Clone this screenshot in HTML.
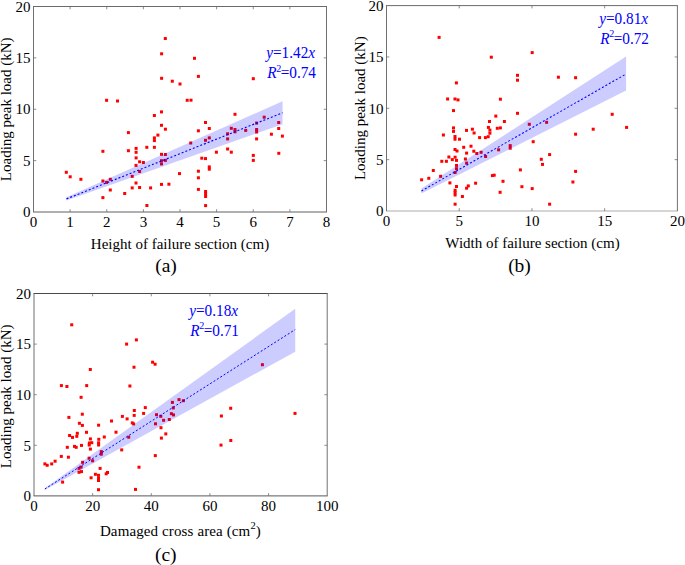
<!DOCTYPE html><html><head><meta charset="utf-8"><style>html,body{margin:0;padding:0;background:#fff;width:685px;height:565px;overflow:hidden}svg{display:block}text{font-family:"Liberation Serif",serif}</style></head><body>
<svg width="685" height="565" viewBox="0 0 685 565">
<rect width="685" height="565" fill="#fff"/>
<g fill="#ff0000"><rect x="64.8" y="170.8" width="3" height="3"/><rect x="68.7" y="175.3" width="3" height="3"/><rect x="79.4" y="177.8" width="3" height="3"/><rect x="101.4" y="149.8" width="3" height="3"/><rect x="101.4" y="179.5" width="3" height="3"/><rect x="105.1" y="180.9" width="3" height="3"/><rect x="108.8" y="177.8" width="3" height="3"/><rect x="108.8" y="188.5" width="3" height="3"/><rect x="101.4" y="196.1" width="3" height="3"/><rect x="123.2" y="192" width="3" height="3"/><rect x="126.9" y="131.1" width="3" height="3"/><rect x="126.9" y="149.2" width="3" height="3"/><rect x="130.7" y="174.9" width="3" height="3"/><rect x="130.7" y="186.4" width="3" height="3"/><rect x="105.1" y="98.8" width="3" height="3"/><rect x="116" y="99.5" width="3" height="3"/><rect x="163.8" y="37" width="3" height="3"/><rect x="160.1" y="52.3" width="3" height="3"/><rect x="193" y="56.8" width="3" height="3"/><rect x="160.1" y="76.8" width="3" height="3"/><rect x="170.8" y="79.7" width="3" height="3"/><rect x="178.5" y="82.5" width="3" height="3"/><rect x="196.9" y="74.9" width="3" height="3"/><rect x="185.7" y="98.8" width="3" height="3"/><rect x="189.5" y="98.7" width="3" height="3"/><rect x="251.8" y="77.2" width="3" height="3"/><rect x="160" y="110.4" width="3" height="3"/><rect x="152.9" y="114" width="3" height="3"/><rect x="160" y="123.8" width="3" height="3"/><rect x="163.9" y="127.7" width="3" height="3"/><rect x="156.4" y="133.6" width="3" height="3"/><rect x="152.9" y="136.4" width="3" height="3"/><rect x="152.9" y="139.1" width="3" height="3"/><rect x="145.3" y="145.8" width="3" height="3"/><rect x="152.9" y="145.8" width="3" height="3"/><rect x="134.6" y="146.9" width="3" height="3"/><rect x="134.6" y="150.8" width="3" height="3"/><rect x="134.6" y="156.4" width="3" height="3"/><rect x="160" y="152.8" width="3" height="3"/><rect x="163.9" y="153" width="3" height="3"/><rect x="204" y="121" width="3" height="3"/><rect x="207.8" y="127" width="3" height="3"/><rect x="196.9" y="129.3" width="3" height="3"/><rect x="189.2" y="141.5" width="3" height="3"/><rect x="204" y="138.8" width="3" height="3"/><rect x="207.8" y="136.4" width="3" height="3"/><rect x="226.1" y="132.3" width="3" height="3"/><rect x="226.1" y="137.4" width="3" height="3"/><rect x="226.1" y="147.5" width="3" height="3"/><rect x="214.9" y="150.7" width="3" height="3"/><rect x="200.3" y="156.7" width="3" height="3"/><rect x="204" y="157.1" width="3" height="3"/><rect x="138.1" y="160.3" width="3" height="3"/><rect x="141.9" y="161" width="3" height="3"/><rect x="134.5" y="163.9" width="3" height="3"/><rect x="138.1" y="170" width="3" height="3"/><rect x="134.5" y="181.5" width="3" height="3"/><rect x="138.1" y="186" width="3" height="3"/><rect x="149.1" y="186.4" width="3" height="3"/><rect x="160" y="182.9" width="3" height="3"/><rect x="167.4" y="182.7" width="3" height="3"/><rect x="145.4" y="204" width="3" height="3"/><rect x="160" y="159.2" width="3" height="3"/><rect x="160" y="162.4" width="3" height="3"/><rect x="163.9" y="158.9" width="3" height="3"/><rect x="178" y="172.1" width="3" height="3"/><rect x="207.8" y="165.4" width="3" height="3"/><rect x="207.8" y="167.7" width="3" height="3"/><rect x="196.9" y="169.7" width="3" height="3"/><rect x="196.9" y="176.3" width="3" height="3"/><rect x="196.9" y="187.9" width="3" height="3"/><rect x="204.1" y="190" width="3" height="3"/><rect x="204.1" y="192.5" width="3" height="3"/><rect x="204.1" y="195" width="3" height="3"/><rect x="204.1" y="204.1" width="3" height="3"/><rect x="233.5" y="112.8" width="3" height="3"/><rect x="229.8" y="126.8" width="3" height="3"/><rect x="233.5" y="128" width="3" height="3"/><rect x="233.5" y="130.3" width="3" height="3"/><rect x="229.8" y="150.7" width="3" height="3"/><rect x="244.2" y="128.9" width="3" height="3"/><rect x="255.1" y="121.6" width="3" height="3"/><rect x="255.1" y="128" width="3" height="3"/><rect x="255.1" y="130.5" width="3" height="3"/><rect x="255.1" y="137.4" width="3" height="3"/><rect x="262.7" y="115.7" width="3" height="3"/><rect x="269.9" y="132.7" width="3" height="3"/><rect x="251.8" y="153.9" width="3" height="3"/><rect x="251.8" y="158.9" width="3" height="3"/><rect x="277.2" y="121" width="3" height="3"/><rect x="277.2" y="127" width="3" height="3"/><rect x="280.9" y="134.6" width="3" height="3"/><rect x="277.3" y="151.8" width="3" height="3"/></g>
<polygon points="66.46,197.34 282.55,101.26 282.55,124.24 66.46,200.39" fill="#0000ff" fill-opacity="0.2"/>
<line x1="66.46" y1="198.87" x2="282.55" y2="112.78" stroke="#0000ff" stroke-width="1.15" stroke-dasharray="2 2"/>
<g fill="none" stroke-width="1">
<line x1="33" y1="6.5" x2="327" y2="6.5" stroke="#6a6a6a"/>
<line x1="33" y1="212" x2="327" y2="212" stroke="#606060"/>
<line x1="33.5" y1="6.5" x2="33.5" y2="212" stroke="#707070"/>
<line x1="326.5" y1="6.5" x2="326.5" y2="212" stroke="#707070"/>
<path d="M70.12 212v-2.8M70.12 6.5v2.8M106.75 212v-2.8M106.75 6.5v2.8M143.38 212v-2.8M143.38 6.5v2.8M180 212v-2.8M180 6.5v2.8M216.62 212v-2.8M216.62 6.5v2.8M253.25 212v-2.8M253.25 6.5v2.8M289.88 212v-2.8M289.88 6.5v2.8M33.5 160.62h2.8M326.5 160.62h-2.8M33.5 109.25h2.8M326.5 109.25h-2.8M33.5 57.88h2.8M326.5 57.88h-2.8" stroke="#707070" stroke-width="0.8"/>
</g>
<g font-size="15" fill="#000"><text x="33.5" y="226.6" text-anchor="middle">0</text><text x="70.12" y="226.6" text-anchor="middle">1</text><text x="106.75" y="226.6" text-anchor="middle">2</text><text x="143.38" y="226.6" text-anchor="middle">3</text><text x="180" y="226.6" text-anchor="middle">4</text><text x="216.62" y="226.6" text-anchor="middle">5</text><text x="253.25" y="226.6" text-anchor="middle">6</text><text x="289.88" y="226.6" text-anchor="middle">7</text><text x="326.5" y="226.6" text-anchor="middle">8</text><text x="30.5" y="217.2" text-anchor="end">0</text><text x="30.5" y="165.82" text-anchor="end">5</text><text x="30.5" y="114.45" text-anchor="end">10</text><text x="30.5" y="63.08" text-anchor="end">15</text><text x="30.5" y="11.7" text-anchor="end">20</text></g>
<text x="180" y="248.8" font-size="15" text-anchor="middle" letter-spacing="0">Height of failure section (cm)</text>
<text x="166" y="271.8" font-size="19.5" text-anchor="middle">(a)</text>
<text transform="translate(10.9 109.3) rotate(-90)" font-size="15" text-anchor="middle">Loading peak load (kN)</text>
<g fill="#0000ff" font-size="15.9">
<text transform="translate(266.2 58.4) scale(0.96 1)"><tspan font-style="italic">y</tspan>=1.42<tspan font-style="italic">x</tspan></text>
<text transform="translate(267.2 78.1) scale(0.96 1)"><tspan font-style="italic">R</tspan><tspan font-size="10.5" dy="-6.5" dx="-0.3">2</tspan><tspan dy="6.5" dx="-0.6">=0.74</tspan></text>
</g>
<g fill="#ff0000"><rect x="437.6" y="35.9" width="3" height="3"/><rect x="454.9" y="81.4" width="3" height="3"/><rect x="446.1" y="97.5" width="3" height="3"/><rect x="453.5" y="97.5" width="3" height="3"/><rect x="456.5" y="98.4" width="3" height="3"/><rect x="489.8" y="55.7" width="3" height="3"/><rect x="530.7" y="51.1" width="3" height="3"/><rect x="516" y="73.8" width="3" height="3"/><rect x="516" y="78.7" width="3" height="3"/><rect x="556.9" y="75.7" width="3" height="3"/><rect x="574.1" y="76.2" width="3" height="3"/><rect x="498.9" y="97.7" width="3" height="3"/><rect x="452" y="109.1" width="3" height="3"/><rect x="452" y="126.4" width="3" height="3"/><rect x="452" y="129.9" width="3" height="3"/><rect x="441.9" y="133.5" width="3" height="3"/><rect x="453.5" y="135" width="3" height="3"/><rect x="453.5" y="137.7" width="3" height="3"/><rect x="458" y="137.7" width="3" height="3"/><rect x="465" y="128.9" width="3" height="3"/><rect x="470.9" y="127.7" width="3" height="3"/><rect x="472.6" y="131.5" width="3" height="3"/><rect x="478.1" y="136.1" width="3" height="3"/><rect x="483.9" y="136.1" width="3" height="3"/><rect x="486.7" y="135.2" width="3" height="3"/><rect x="488" y="120" width="3" height="3"/><rect x="486.9" y="125.9" width="3" height="3"/><rect x="488.4" y="128.6" width="3" height="3"/><rect x="488.4" y="131.7" width="3" height="3"/><rect x="462.2" y="145.8" width="3" height="3"/><rect x="469.5" y="144.7" width="3" height="3"/><rect x="453.5" y="148" width="3" height="3"/><rect x="455.5" y="149.5" width="3" height="3"/><rect x="494.3" y="114.6" width="3" height="3"/><rect x="516" y="111.8" width="3" height="3"/><rect x="502.9" y="120" width="3" height="3"/><rect x="495.8" y="126.8" width="3" height="3"/><rect x="498.9" y="126.4" width="3" height="3"/><rect x="527.8" y="122.8" width="3" height="3"/><rect x="508.7" y="144.1" width="3" height="3"/><rect x="531.7" y="140.2" width="3" height="3"/><rect x="497.1" y="148.3" width="3" height="3"/><rect x="545.1" y="120.8" width="3" height="3"/><rect x="574.1" y="132.7" width="3" height="3"/><rect x="610.7" y="112.8" width="3" height="3"/><rect x="625.1" y="125.9" width="3" height="3"/><rect x="591.7" y="127.7" width="3" height="3"/><rect x="574.1" y="169.9" width="3" height="3"/><rect x="571.4" y="180.5" width="3" height="3"/><rect x="447.4" y="155.5" width="3" height="3"/><rect x="440.3" y="159.8" width="3" height="3"/><rect x="444.9" y="159.8" width="3" height="3"/><rect x="431.8" y="169" width="3" height="3"/><rect x="427.3" y="176.8" width="3" height="3"/><rect x="420.1" y="178.3" width="3" height="3"/><rect x="439.1" y="174.8" width="3" height="3"/><rect x="448.4" y="181.4" width="3" height="3"/><rect x="465.1" y="151.6" width="3" height="3"/><rect x="472.3" y="149.7" width="3" height="3"/><rect x="475.3" y="152" width="3" height="3"/><rect x="479.6" y="150.8" width="3" height="3"/><rect x="484.1" y="155" width="3" height="3"/><rect x="453.6" y="155.7" width="3" height="3"/><rect x="450.8" y="158.1" width="3" height="3"/><rect x="455" y="158.9" width="3" height="3"/><rect x="463.9" y="157.5" width="3" height="3"/><rect x="465.1" y="161.6" width="3" height="3"/><rect x="455" y="163.9" width="3" height="3"/><rect x="455" y="167.2" width="3" height="3"/><rect x="453.6" y="171" width="3" height="3"/><rect x="490.9" y="174.1" width="3" height="3"/><rect x="492.7" y="173.7" width="3" height="3"/><rect x="455" y="185" width="3" height="3"/><rect x="466.8" y="184.4" width="3" height="3"/><rect x="465.1" y="186.7" width="3" height="3"/><rect x="474.1" y="181.7" width="3" height="3"/><rect x="453.6" y="188.8" width="3" height="3"/><rect x="453.6" y="191.1" width="3" height="3"/><rect x="453.6" y="193.5" width="3" height="3"/><rect x="460.9" y="195" width="3" height="3"/><rect x="453.6" y="202.7" width="3" height="3"/><rect x="548.1" y="153.1" width="3" height="3"/><rect x="539.8" y="157.8" width="3" height="3"/><rect x="541" y="162.9" width="3" height="3"/><rect x="518.9" y="168.4" width="3" height="3"/><rect x="501.5" y="179.8" width="3" height="3"/><rect x="520.4" y="185.2" width="3" height="3"/><rect x="530.7" y="187.1" width="3" height="3"/><rect x="498.6" y="190.8" width="3" height="3"/><rect x="548.1" y="202.7" width="3" height="3"/><rect x="508.7" y="146.7" width="3" height="3"/></g>
<polygon points="421.41,188.5 626.06,56.57 626.06,90.57 421.41,193.45" fill="#0000ff" fill-opacity="0.2"/>
<line x1="421.41" y1="191.04" x2="626.06" y2="73.99" stroke="#0000ff" stroke-width="1.05" stroke-dasharray="2 2"/>
<g fill="none" stroke-width="1">
<line x1="386" y1="5.6" x2="677.9" y2="5.6" stroke="#6a6a6a"/>
<line x1="386" y1="211" x2="677.9" y2="211" stroke="#ababab"/>
<line x1="386.5" y1="5.6" x2="386.5" y2="211" stroke="#707070"/>
<line x1="677.4" y1="5.6" x2="677.4" y2="211" stroke="#707070"/>
<path d="M459.23 211v-2.8M459.23 5.6v2.8M531.95 211v-2.8M531.95 5.6v2.8M604.67 211v-2.8M604.67 5.6v2.8M386.5 159.65h2.8M677.4 159.65h-2.8M386.5 108.3h2.8M677.4 108.3h-2.8M386.5 56.95h2.8M677.4 56.95h-2.8" stroke="#707070" stroke-width="0.8"/>
</g>
<g font-size="15" fill="#000"><text x="386.5" y="225.6" text-anchor="middle">0</text><text x="459.23" y="225.6" text-anchor="middle">5</text><text x="531.95" y="225.6" text-anchor="middle">10</text><text x="604.67" y="225.6" text-anchor="middle">15</text><text x="677.4" y="225.6" text-anchor="middle">20</text><text x="383.5" y="216.2" text-anchor="end">0</text><text x="383.5" y="164.85" text-anchor="end">5</text><text x="383.5" y="113.5" text-anchor="end">10</text><text x="383.5" y="62.15" text-anchor="end">15</text><text x="383.5" y="10.8" text-anchor="end">20</text></g>
<text x="532.5" y="247.6" font-size="15" text-anchor="middle" letter-spacing="0">Width of failure section (cm)</text>
<text x="519.5" y="271.8" font-size="19.5" text-anchor="middle">(b)</text>
<text transform="translate(364.7 108.2) rotate(-90)" font-size="15" text-anchor="middle">Loading peak load (kN)</text>
<g fill="#0000ff" font-size="15.9">
<text transform="translate(599.2 24.2) scale(0.96 1)"><tspan font-style="italic">y</tspan>=0.81<tspan font-style="italic">x</tspan></text>
<text transform="translate(600.2 43.9) scale(0.96 1)"><tspan font-style="italic">R</tspan><tspan font-size="10.5" dy="-6.5" dx="-0.3">2</tspan><tspan dy="6.5" dx="-0.6">=0.72</tspan></text>
</g>
<g fill="#ff0000"><rect x="70.2" y="323.3" width="3" height="3"/><rect x="134.9" y="338.4" width="3" height="3"/><rect x="125.1" y="342.6" width="3" height="3"/><rect x="88.8" y="368" width="3" height="3"/><rect x="132.5" y="365.7" width="3" height="3"/><rect x="151.1" y="360.7" width="3" height="3"/><rect x="153.6" y="362.7" width="3" height="3"/><rect x="59.9" y="384.1" width="3" height="3"/><rect x="65.4" y="385" width="3" height="3"/><rect x="85.2" y="384.1" width="3" height="3"/><rect x="128.4" y="384.5" width="3" height="3"/><rect x="79.6" y="395.8" width="3" height="3"/><rect x="80.8" y="412.7" width="3" height="3"/><rect x="67.4" y="415.9" width="3" height="3"/><rect x="77.9" y="421.8" width="3" height="3"/><rect x="80.9" y="423.9" width="3" height="3"/><rect x="97.1" y="423.7" width="3" height="3"/><rect x="110" y="419.5" width="3" height="3"/><rect x="120.9" y="414.9" width="3" height="3"/><rect x="125.6" y="417.4" width="3" height="3"/><rect x="132.8" y="409" width="3" height="3"/><rect x="132.7" y="413.9" width="3" height="3"/><rect x="130.8" y="421.4" width="3" height="3"/><rect x="132.1" y="422.4" width="3" height="3"/><rect x="143.8" y="406.1" width="3" height="3"/><rect x="142.1" y="411.9" width="3" height="3"/><rect x="85" y="430.8" width="3" height="3"/><rect x="68.1" y="434" width="3" height="3"/><rect x="71" y="435.9" width="3" height="3"/><rect x="75.8" y="431.8" width="3" height="3"/><rect x="75.3" y="434.8" width="3" height="3"/><rect x="88.9" y="437.4" width="3" height="3"/><rect x="97.3" y="437.8" width="3" height="3"/><rect x="87.9" y="441.5" width="3" height="3"/><rect x="90.3" y="441.2" width="3" height="3"/><rect x="87.7" y="443.5" width="3" height="3"/><rect x="97.1" y="441.3" width="3" height="3"/><rect x="97.1" y="443.5" width="3" height="3"/><rect x="80" y="443.9" width="3" height="3"/><rect x="73" y="444.9" width="3" height="3"/><rect x="74.7" y="445.8" width="3" height="3"/><rect x="65.8" y="445.8" width="3" height="3"/><rect x="88.9" y="447.6" width="3" height="3"/><rect x="59.8" y="454.9" width="3" height="3"/><rect x="66.9" y="455.7" width="3" height="3"/><rect x="43.4" y="462.4" width="3" height="3"/><rect x="45.7" y="463.8" width="3" height="3"/><rect x="50.2" y="462.4" width="3" height="3"/><rect x="53.6" y="459.7" width="3" height="3"/><rect x="81.1" y="460.8" width="3" height="3"/><rect x="87.6" y="456.7" width="3" height="3"/><rect x="91.1" y="459.3" width="3" height="3"/><rect x="77.5" y="466.9" width="3" height="3"/><rect x="79.6" y="465.6" width="3" height="3"/><rect x="77.5" y="470.8" width="3" height="3"/><rect x="80" y="470.1" width="3" height="3"/><rect x="89.6" y="476.3" width="3" height="3"/><rect x="61.1" y="480.6" width="3" height="3"/><rect x="114.5" y="430.7" width="3" height="3"/><rect x="102.8" y="435.5" width="3" height="3"/><rect x="127.2" y="435.7" width="3" height="3"/><rect x="120.2" y="448.4" width="3" height="3"/><rect x="99.8" y="450.1" width="3" height="3"/><rect x="99.8" y="452.7" width="3" height="3"/><rect x="170.9" y="400.9" width="3" height="3"/><rect x="177.5" y="398.1" width="3" height="3"/><rect x="181.9" y="399.2" width="3" height="3"/><rect x="171.8" y="406.4" width="3" height="3"/><rect x="155" y="413.2" width="3" height="3"/><rect x="159.3" y="414.8" width="3" height="3"/><rect x="162.1" y="418.8" width="3" height="3"/><rect x="154" y="422.3" width="3" height="3"/><rect x="167.8" y="418" width="3" height="3"/><rect x="169.9" y="412.2" width="3" height="3"/><rect x="172" y="413.4" width="3" height="3"/><rect x="159.5" y="426.2" width="3" height="3"/><rect x="164.3" y="432.4" width="3" height="3"/><rect x="159.9" y="436.6" width="3" height="3"/><rect x="229.2" y="406.8" width="3" height="3"/><rect x="219.9" y="414.5" width="3" height="3"/><rect x="293.5" y="411.9" width="3" height="3"/><rect x="229.3" y="439" width="3" height="3"/><rect x="219.5" y="443.6" width="3" height="3"/><rect x="260.9" y="363.2" width="3" height="3"/><rect x="153.8" y="454.1" width="3" height="3"/><rect x="98.6" y="466.9" width="3" height="3"/><rect x="137.5" y="465.7" width="3" height="3"/><rect x="106" y="471" width="3" height="3"/><rect x="104.7" y="472.3" width="3" height="3"/><rect x="93.9" y="472.8" width="3" height="3"/><rect x="97" y="473.8" width="3" height="3"/><rect x="97" y="476.5" width="3" height="3"/><rect x="97" y="479" width="3" height="3"/><rect x="97" y="488.2" width="3" height="3"/><rect x="134" y="487.9" width="3" height="3"/></g>
<polygon points="44.85,488.13 295.24,308.8 295.24,351.63 44.85,489.91" fill="#0000ff" fill-opacity="0.2"/>
<line x1="44.85" y1="488.99" x2="295.24" y2="329.54" stroke="#0000ff" stroke-width="1.0" stroke-dasharray="2 2"/>
<g fill="none" stroke-width="1">
<line x1="33.5" y1="293.5" x2="327.7" y2="293.5" stroke="#4a4a4a"/>
<line x1="33.5" y1="495.9" x2="327.7" y2="495.9" stroke="#585858"/>
<line x1="34" y1="293.5" x2="34" y2="495.9" stroke="#707070"/>
<line x1="327.2" y1="293.5" x2="327.2" y2="495.9" stroke="#707070"/>
<path d="M92.64 495.9v-2.8M92.64 293.5v2.8M151.28 495.9v-2.8M151.28 293.5v2.8M209.92 495.9v-2.8M209.92 293.5v2.8M268.56 495.9v-2.8M268.56 293.5v2.8M34 445.3h2.8M327.2 445.3h-2.8M34 394.7h2.8M327.2 394.7h-2.8M34 344.1h2.8M327.2 344.1h-2.8" stroke="#707070" stroke-width="0.8"/>
</g>
<g font-size="15" fill="#000"><text x="34" y="510.5" text-anchor="middle">0</text><text x="92.64" y="510.5" text-anchor="middle">20</text><text x="151.28" y="510.5" text-anchor="middle">40</text><text x="209.92" y="510.5" text-anchor="middle">60</text><text x="268.56" y="510.5" text-anchor="middle">80</text><text x="327.2" y="510.5" text-anchor="middle">100</text><text x="31" y="501.1" text-anchor="end">0</text><text x="31" y="450.5" text-anchor="end">5</text><text x="31" y="399.9" text-anchor="end">10</text><text x="31" y="349.3" text-anchor="end">15</text><text x="31" y="298.7" text-anchor="end">20</text></g>
<text x="180.4" y="535.8" font-size="15" text-anchor="middle" letter-spacing="0.12">Damaged cross area (cm<tspan dy="-6.5" font-size="10.5">2</tspan><tspan dy="6.5">)</tspan></text>
<text x="165.75" y="560.7" font-size="19.5" text-anchor="middle">(c)</text>
<text transform="translate(11 396.4) rotate(-90)" font-size="15" text-anchor="middle">Loading peak load (kN)</text>
<g fill="#0000ff" font-size="15.9">
<text transform="translate(189.2 316.2) scale(0.96 1)"><tspan font-style="italic">y</tspan>=0.18<tspan font-style="italic">x</tspan></text>
<text transform="translate(190.2 335.9) scale(0.96 1)"><tspan font-style="italic">R</tspan><tspan font-size="10.5" dy="-6.5" dx="-0.3">2</tspan><tspan dy="6.5" dx="-0.6">=0.71</tspan></text>
</g>
</svg></body></html>
